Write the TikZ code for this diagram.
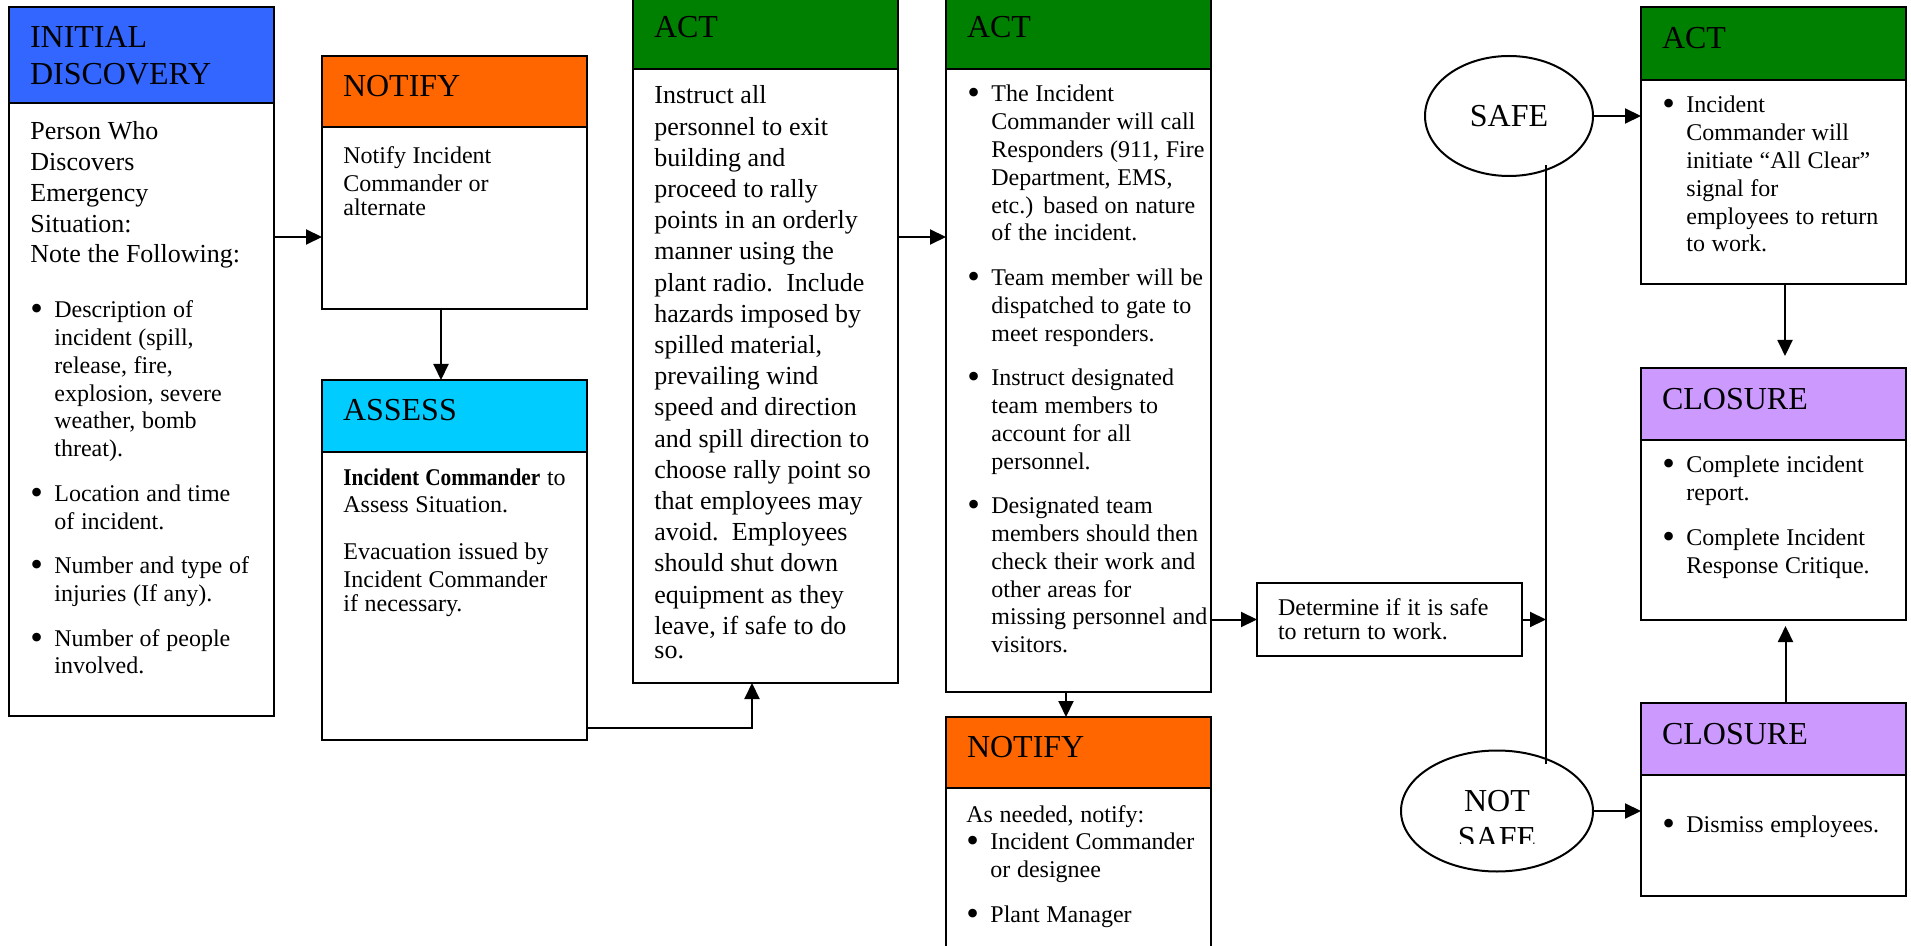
\documentclass[tikz,border=0pt]{standalone}
\usepackage{fontspec}
\usepackage{graphicx}
\setmainfont{Liberation Serif}
\usetikzlibrary{shapes.geometric,arrows.meta}
\pgfdeclarelayer{edgelayer}
\pgfdeclarelayer{nodelayer}
\pgfsetlayers{edgelayer,nodelayer,main}
\definecolor{discblue}{RGB}{51,102,255}
\definecolor{notifyorange}{RGB}{255,102,0}
\definecolor{assesscyan}{RGB}{0,204,255}
\definecolor{actgreen}{RGB}{0,128,0}
\definecolor{closurepurple}{RGB}{204,153,255}
\newcommand{\titlefont}{\fontsize{16pt}{18.5pt}\selectfont}
\newcommand{\txtfont}{\fontsize{12pt}{13.9pt}\selectfont}
\newcommand{\bigtxtfont}{\fontsize{13pt}{15.35pt}\selectfont}
\newlength{\bulletindent}
\setlength{\bulletindent}{12pt}
\newlength{\bulletgap}
\setlength{\bulletgap}{8.4pt}
\newcommand{\bulletmark}{\raisebox{-1.5pt}{\scalebox{1.5}{\textbullet}}}
% one bullet paragraph, lines broken by hand
\newcommand{\bitem}[1]{{\def\\{\hfil\break}\hangindent=\bulletindent\hangafter=0\noindent\llap{\makebox[\bulletindent][l]{\bulletmark}}#1\par}\vspace{\bulletgap}}
\tikzstyle{head}=[rectangle, draw=black, line width=1pt, outer sep=0pt, anchor=north west, minimum width=132.5pt, minimum height=36pt, inner xsep=10.5pt, inner ysep=0pt, text width=111.5pt, align=left, text height=12pt, text depth=7pt, font=\titlefont]
\tikzstyle{body}=[rectangle, draw=black, fill=white, line width=1pt, outer sep=0pt, anchor=north west, minimum width=132.5pt]
\tikzstyle{bodytext}=[anchor=base west, inner sep=0pt, text width=125pt]
\tikzstyle{querybox}=[rectangle, draw=black, fill=white, line width=1pt, outer sep=0pt, anchor=north west, minimum width=132.5pt, minimum height=36.5pt, inner xsep=10.5pt, inner ysep=0pt, text width=111.5pt, align=left, text height=16pt, text depth=20.5pt]
\tikzstyle{decision}=[ellipse, draw=black, line width=1pt, inner sep=0pt, font=\titlefont]
\tikzstyle{arrow}=[-{Triangle[length=8pt,width=7.5pt]}, draw=black, line width=1pt]
\tikzstyle{wire}=[-, draw=black, line width=1pt]
\begin{document}
\begin{tikzpicture}[x=0.5pt, y=-0.5pt]
    \useasboundingbox (0,0) rectangle (1911,946);
    \begin{pgfonlayer}{nodelayer}
        % discovery, notify, assess
        \node [style=head, fill=discblue, minimum height=48pt, text depth=19pt] (disc) at (9,7) {\titlefont INITIAL\\DISCOVERY};
        \node [style=body, minimum height=306.5pt] (disc body) at (disc.south west) {};
        \node [style=bodytext] at ([shift={(21,37)}]disc body.north west) {\bigtxtfont Person Who\\Discovers\\Emergency\\Situation:\\Note the Following:\par
            \vspace{13.6pt}\txtfont
            \bitem{Description of\\incident (spill,\\release, fire,\\explosion, severe\\weather, bomb\\threat).}
            \bitem{Location and time\\of incident.}
            \bitem{Number and type of\\injuries (If any).}
            \bitem{Number of people\\involved.}};
        \node [style=head, fill=notifyorange, minimum height=35.5pt] (notify) at (322,56) {NOTIFY};
        \node [style=body, minimum height=91pt] (notify body) at (notify.south west) {};
        \node [style=bodytext] at ([shift={(21,37)}]notify body.north west) {\txtfont Notify Incident\\Commander or\\alternate};
        \coordinate (notify in) at ([yshift=-55pt]notify body.north west);
        \node [style=head, fill=assesscyan] (assess) at (322,380) {ASSESS};
        \node [style=body, minimum height=144pt] (assess body) at (assess.south west) {};
        \node [style=bodytext] at ([shift={(21,33)}]assess body.north west) {\txtfont\scalebox{0.89}[1]{\textbf{Incident Commander}} to\\Assess Situation.\par
            \vspace{9.5pt}Evacuation issued by\\Incident Commander\\if necessary.};
        % act columns
        \node [style=head, fill=actgreen] (act) at (633,-3) {ACT};
        \node [style=body, minimum height=307pt] (act body) at (act.south west) {};
        \node [style=bodytext] at ([shift={(21,35)}]act body.north west) {\bigtxtfont\baselineskip=15.6pt Instruct all\\personnel to exit\\building and\\proceed to rally\\points in an orderly\\manner using the\\plant radio.\ \ Include\\hazards imposed by\\spilled material,\\prevailing wind\\speed and direction\\and spill direction to\\choose rally point so\\that employees may\\avoid.\ \ Employees\\should shut down\\equipment as they\\leave, if safe to do\\so.};
        \node [style=head, fill=actgreen] (actcall) at (946,-3) {ACT};
        \node [style=body, minimum height=311.5pt] (actcall body) at (actcall.south west) {};
        \node [style=bodytext] at ([shift={(21,33)}]actcall body.north west) {\txtfont
            \bitem{The Incident\\Commander will call\\Responders (911, Fire\\Department, EMS,\\etc.) based on nature\\of the incident.}
            \bitem{Team member will be\\dispatched to gate to\\meet responders.}
            \bitem{Instruct designated\\team members to\\account for all\\personnel.}
            \bitem{Designated team\\members should then\\check their work and\\other areas for\\missing personnel and\\visitors.}};
        \coordinate (actcall in) at ([yshift=-84pt]actcall body.north west);
        \node [style=head, fill=notifyorange, minimum height=35.5pt] (notifyplant) at (946,717) {NOTIFY};
        \node [style=body, minimum height=81pt] (notifyplant body) at (notifyplant.south west) {};
        \node [style=bodytext] at ([shift={(20,34)}]notifyplant body.north west) {\txtfont As needed, notify:\par
            \bitem{Incident Commander\\or designee}
            \bitem{Plant Manager}};
        % safe or not
        \node [style=querybox] (determine) at (1257,583) {\txtfont Determine if it is safe\\to return to work.};
        \node [style=decision, minimum width=84pt, minimum height=60pt] (safe) at (1509,116) {SAFE};
        \node [style=decision, minimum width=96pt, minimum height=60.5pt] (notsafe) at (1497,811) {};
        \begin{scope}
            \clip (1400,760) rectangle (1600,843);
            \node [font=\titlefont, text width=80pt, align=center, anchor=base, inner sep=0pt] at (notsafe.center) {\titlefont NOT\\SAFE};
        \end{scope}
        \coordinate (split top) at (1546,165);
        \coordinate (split bottom) at (1546,764);
        % all clear and closure
        \node [style=head, fill=actgreen, minimum height=36.5pt] (actclear) at (1641,7) {ACT};
        \node [style=body, minimum height=102pt] (actclear body) at (actclear.south west) {};
        \node [style=bodytext] at ([shift={(21,33)}]actclear body.north west) {\txtfont
            \bitem{Incident\\Commander will\\initiate “All Clear”\\signal for\\employees to return\\to work.}};
        \node [style=head, fill=closurepurple] (closure) at (1641,368) {CLOSURE};
        \node [style=body, minimum height=90pt] (closure body) at (closure.south west) {};
        \node [style=bodytext] at ([shift={(21,33)}]closure body.north west) {\txtfont
            \bitem{Complete incident\\report.}
            \bitem{Complete Incident\\Response Critique.}};
        \node [style=head, fill=closurepurple] (dismiss) at (1641,703) {CLOSURE};
        \node [style=body, minimum height=60.5pt] (dismiss body) at (dismiss.south west) {};
        \node [style=bodytext] at ([shift={(21,57)}]dismiss body.north west) {\txtfont\bitem{Dismiss employees.}};
    \end{pgfonlayer}
    \begin{pgfonlayer}{edgelayer}
        \draw [style=arrow] (disc body.east |- notify in) to (notify in);
        \draw [style=arrow] ([xshift=-6.75pt]notify body.south) to ([xshift=-6.75pt]assess.north);
        \draw [style=arrow] ([yshift=6pt]assess body.south east) -| ([xshift=-6.75pt]act body.south);
        \draw [style=arrow] (act body.east |- actcall in) to (actcall in);
        \draw [style=arrow] ([xshift=-6.25pt]actcall body.south) to ([xshift=-6.25pt]notifyplant.north);
        \draw [style=arrow] (determine.west -| actcall body.east) to (determine.west);
        \draw [style=arrow] (determine.east) to (determine.east -| split top);
        \draw [style=wire] (split top) to (split bottom);
        \draw [style=arrow] (safe.east) to (safe.east -| actclear body.west);
        \draw [style=arrow] (notsafe.east) to (notsafe.east -| dismiss body.west);
        \draw [style=arrow, shorten >=6pt] ([xshift=5.75pt]actclear body.south) to ([xshift=5.75pt]closure.north);
        \draw [style=arrow, shorten >=3pt] ([xshift=6pt]dismiss.north) to ([xshift=6pt]closure body.south);
    \end{pgfonlayer}
\end{tikzpicture}
\end{document}
